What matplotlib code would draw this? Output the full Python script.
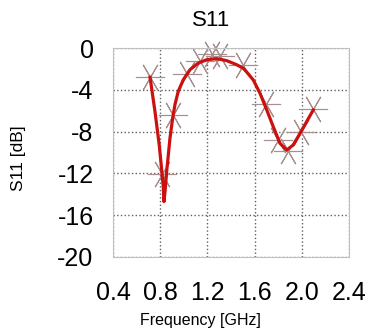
import matplotlib
matplotlib.use("Agg")
import matplotlib.pyplot as plt

plt.rcParams['font.family'] = ['Liberation Sans', 'DejaVu Sans']

# fitted curve
freq_fit = [0.714, 0.756, 0.792, 0.812, 0.826, 0.832, 0.842, 0.855, 0.870,
            0.883, 0.906, 0.925, 0.953, 0.996, 1.053, 1.123, 1.194, 1.279,
            1.364, 1.448, 1.504, 1.533, 1.589, 1.646, 1.703, 1.758, 1.815,
            1.872, 1.928, 1.985, 2.041, 2.097]
s11_fit = [-2.8, -6.1, -9.3, -11.6, -13.3, -14.7, -13.6, -11.8, -10.1,
           -8.61, -6.70, -5.42, -4.15, -3.03, -2.07, -1.44, -1.12, -1.02,
           -1.21, -1.60, -1.94, -2.30, -3.06, -4.34, -5.93, -7.53, -9.12,
           -9.76, -9.28, -8.16, -7.05, -5.93]

# measured points
freq_meas = [0.714, 0.812, 0.911, 1.03, 1.14, 1.24, 1.31, 1.50, 1.70,
             1.80, 1.88, 1.99, 2.097]
s11_meas = [-2.75, -12.06, -6.41, -2.5, -1.2, -0.6, -0.8, -1.6, -5.35,
            -8.8, -9.9, -8.0, -5.87]

xticks = [0.4, 0.8, 1.2, 1.6, 2.0, 2.4]
yticks = [0, -4, -8, -12, -16, -20]

fig = plt.figure(figsize=(3.71, 3.31), dpi=100)
ax = fig.add_axes([113 / 371, 1 - 257 / 331, 236 / 371, 209 / 331])

ax.plot(freq_meas, s11_meas, linestyle='none', marker=(6, 2, 90),
        markersize=21, markeredgewidth=0.8, color='#a89090', zorder=2,
        clip_on=False)
ax.plot(freq_fit, s11_fit, color='#cc1010', linewidth=2.3, zorder=3,
        solid_joinstyle='round')

ax.set_xlim(0.4, 2.4)
ax.set_ylim(-20, 0)
ax.set_xticks(xticks)
ax.set_yticks(yticks)
ax.set_xticklabels(['%.1f' % v for v in xticks])
ax.set_yticklabels(['%d' % v for v in yticks])
ax.tick_params(length=0, labelsize=18, pad=14)
ax.tick_params(axis='x', pad=17)
ax.grid(True, linestyle=':', color='#606060', linewidth=1.0)
for sp in ax.spines.values():
    sp.set_color('#c0c0c0')

fig.text(211 / 371, 1 - 20 / 331, 'S11', ha='center', va='center', fontsize=16)
fig.text(200 / 371, 1 - 321 / 331, 'Frequency [GHz]', ha='center', va='center',
         fontsize=11.5)
fig.text(19 / 371, 1 - 158 / 331, 'S11 [dB]', ha='center', va='center',
         fontsize=12.5, rotation=90)

fig.savefig('out.png', dpi=100)
